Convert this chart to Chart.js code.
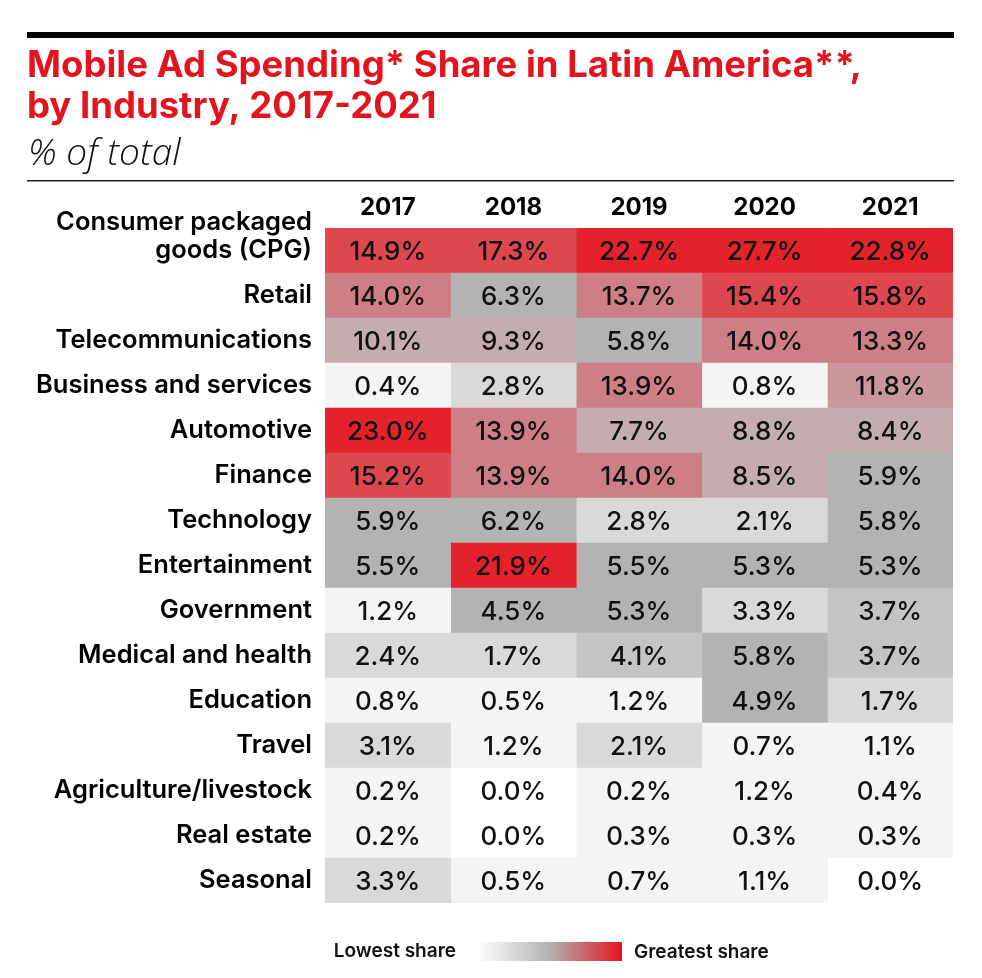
<!DOCTYPE html>
<html>
<head>
<meta charset="utf-8">
<script src="https://cdn.jsdelivr.net/npm/chart.js@4.4.1/dist/chart.umd.min.js"></script>
<style>
  html, body { margin: 0; padding: 0; background: #ffffff; }
  #wrap { width: 982px; height: 978px; position: relative; }
</style>
</head>
<body>
<div id="wrap"><canvas id="c" width="982" height="978"></canvas></div>
<script>
// ---------- DATA ----------
const titleLines = ['Mobile Ad Spending* Share in Latin America**,', 'by Industry, 2017-2021'];
const subtitle = '% of total';
const legendLow = 'Lowest share';
const legendHigh = 'Greatest share';

const years = ['2017', '2018', '2019', '2020', '2021'];
const industries = [
  ['Consumer packaged', 'goods (CPG)'],
  'Retail',
  'Telecommunications',
  'Business and services',
  'Automotive',
  'Finance',
  'Technology',
  'Entertainment',
  'Government',
  'Medical and health',
  'Education',
  'Travel',
  'Agriculture/livestock',
  'Real estate',
  'Seasonal'
];
const share2017 = [14.9, 14.0, 10.1, 0.4, 23.0, 15.2, 5.9, 5.5, 1.2, 2.4, 0.8, 3.1, 0.2, 0.2, 3.3];
const share2018 = [17.3, 6.3, 9.3, 2.8, 13.9, 13.9, 6.2, 21.9, 4.5, 1.7, 0.5, 1.2, 0.0, 0.0, 0.5];
const share2019 = [22.7, 13.7, 5.8, 13.9, 7.7, 14.0, 2.8, 5.5, 5.3, 4.1, 1.2, 2.1, 0.2, 0.3, 0.7];
const share2020 = [27.7, 15.4, 14.0, 0.8, 8.8, 8.5, 2.1, 5.3, 3.3, 5.8, 4.9, 0.7, 1.2, 0.3, 1.1];
const share2021 = [22.8, 15.8, 13.3, 11.8, 8.4, 5.9, 5.8, 5.3, 3.7, 3.7, 1.7, 1.1, 0.4, 0.3, 0.0];
const seriesByYear = [share2017, share2018, share2019, share2020, share2021];

// ---------- STYLE ----------
const FONT = 'Inter, Roboto, "Liberation Sans", Arial, sans-serif';
const SUBFONT = '"Open Sans", Roboto, sans-serif';
const RED = '#e2151f';
const colorSteps = [
  [0.1, '#ffffff'],
  [1.5, '#f4f4f4'],
  [3.6, '#d9d9d9'],
  [4.4, '#c4c4c4'],
  [7.5, '#b3b3b3'],
  [10.5, '#c5adaf'],
  [13.0, '#c9979c'],
  [14.5, '#ce7f86'],
  [20.0, '#dc4750'],
  [Infinity, '#e3222c']
];
function cellColor(v) {
  for (const [lim, col] of colorSteps) { if (v < lim) return col; }
  return colorSteps[colorSteps.length - 1][1];
}

// cell value labels
const cellLabels = {
  id: 'cellLabels',
  afterDatasetsDraw(chart) {
    const ctx = chart.ctx;
    ctx.save();
    ctx.font = '500 26px ' + FONT;
    ctx.fillStyle = '#111111';
    ctx.textAlign = 'center';
    ctx.textBaseline = 'middle';
    chart.data.datasets.forEach((ds, di) => {
      const meta = chart.getDatasetMeta(di);
      meta.data.forEach((el, i) => {
        const cx = (el.x + el.base) / 2;
        ctx.fillText(ds.values[i].toFixed(1) + '%', cx, el.y + 2);
      });
    });
    ctx.restore();
  }
};

// title, rules and gradient legend
const frame = {
  id: 'frame',
  afterDraw(chart) {
    const ctx = chart.ctx;
    ctx.save();
    // thick top rule
    ctx.fillStyle = '#000000';
    ctx.fillRect(27, 32, 927, 6);
    // title
    ctx.fillStyle = RED;
    ctx.textAlign = 'left';
    ctx.textBaseline = 'alphabetic';
    ctx.font = 'bold 36.5px ' + FONT;
    ctx.fillText(titleLines[0], 27, 77);
    ctx.fillText(titleLines[1], 27, 118);
    // subtitle
    ctx.fillStyle = '#111111';
    ctx.font = 'italic 300 37px ' + SUBFONT;
    ctx.fillText(subtitle, 28, 165);
    // thin rule
    ctx.fillStyle = '#222222';
    ctx.fillRect(27, 180, 927, 1.5);
    // legend
    const gx = 477, gy = 942, gw = 145, gh = 19;
    const g = ctx.createLinearGradient(gx, 0, gx + gw, 0);
    g.addColorStop(0, '#ffffff');
    g.addColorStop(0.5, '#b3b3b3');
    g.addColorStop(1, '#e3141e');
    ctx.fillStyle = g;
    ctx.fillRect(gx, gy, gw, gh);
    ctx.fillStyle = '#111111';
    ctx.font = '600 19px ' + FONT;
    ctx.textBaseline = 'middle';
    ctx.textAlign = 'right';
    ctx.fillText(legendLow, 456, 951);
    ctx.textAlign = 'left';
    ctx.fillText(legendHigh, 634, 952);
    ctx.restore();
  }
};

const datasets = years.map((y, i) => ({
  label: y,
  data: industries.map(() => [i, i + 1]),
  values: seriesByYear[i],
  backgroundColor: seriesByYear[i].map(cellColor),
  borderWidth: 0,
  barPercentage: 1,
  categoryPercentage: 1,
  grouped: false
}));

new Chart(document.getElementById('c'), {
  type: 'bar',
  data: { labels: industries, datasets },
  options: {
    indexAxis: 'y',
    responsive: false,
    animation: false,
    layout: { padding: { top: 185, right: 29, bottom: 75, left: 0 } },
    plugins: {
      legend: { display: false },
      tooltip: { enabled: false },
      title: { display: false }
    },
    scales: {
      x: {
        type: 'linear',
        position: 'top',
        min: 0,
        max: 5,
        grid: { display: false, drawTicks: false },
        border: { display: false },
        afterBuildTicks: (s) => { s.ticks = years.map((y, i) => ({ value: i + 0.5 })); },
        afterFit: (s) => { s.height = 43; },
        ticks: {
          autoSkip: false,
          maxRotation: 0,
          padding: 6,
          color: '#000000',
          font: { family: FONT, size: 24, weight: 'bold' },
          callback: (v) => years[Math.floor(v)]
        }
      },
      y: {
        grid: { display: false, drawTicks: false },
        border: { display: false },
        afterFit: (s) => { s.width = 325; },
        ticks: {
          autoSkip: false,
          padding: 13,
          color: '#000000',
          font: { family: FONT, size: 25.5, weight: '600', lineHeight: 1.1 },
          callback: function (v) {
            const l = this.getLabelForValue(v);
            return Array.isArray(l) ? [...l, ''] : l;
          }
        }
      }
    }
  },
  plugins: [cellLabels, frame]
});
</script>
</body>
</html>
